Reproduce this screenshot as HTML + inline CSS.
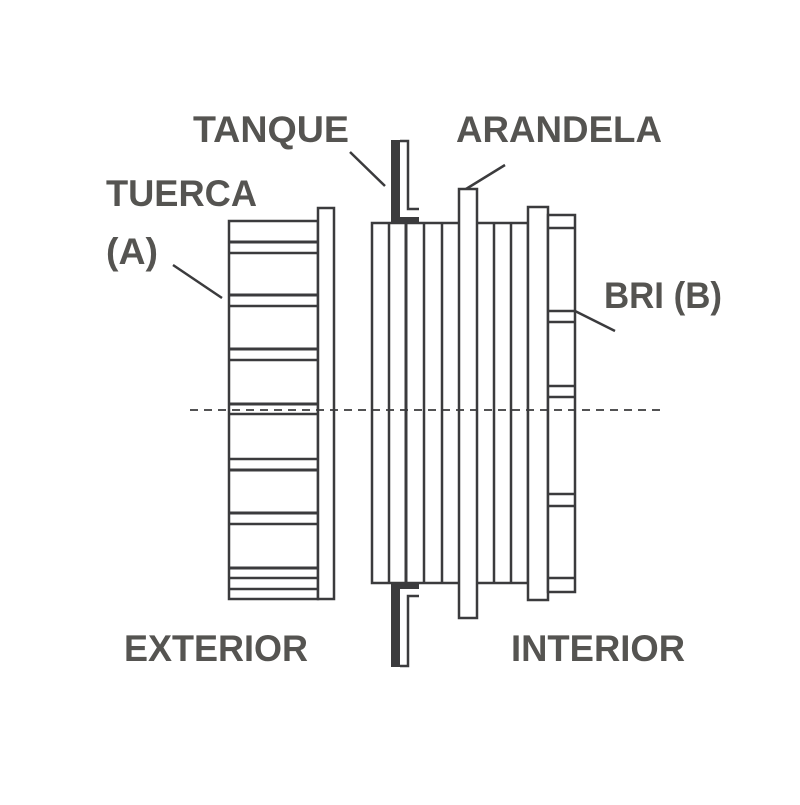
<!DOCTYPE html>
<html><head><meta charset="utf-8"><style>html,body{margin:0;padding:0;background:#fff}</style></head>
<body>
<svg width="800" height="800" viewBox="0 0 800 800" xmlns="http://www.w3.org/2000/svg">
<g font-family="Liberation Sans, sans-serif" font-weight="bold" font-size="37" fill="#555451">
<text x="193" y="142" textLength="156" lengthAdjust="spacingAndGlyphs">TANQUE</text>
<text x="106" y="206" textLength="151" lengthAdjust="spacingAndGlyphs">TUERCA</text>
<text x="106" y="264" textLength="52" lengthAdjust="spacingAndGlyphs">(A)</text>
<text x="456" y="142" textLength="206" lengthAdjust="spacingAndGlyphs">ARANDELA</text>
<text x="604" y="308" textLength="118" lengthAdjust="spacingAndGlyphs">BRI (B)</text>
<text x="124" y="661" textLength="184" lengthAdjust="spacingAndGlyphs">EXTERIOR</text>
<text x="511" y="661" textLength="174" lengthAdjust="spacingAndGlyphs">INTERIOR</text>
</g>
<g stroke="#3b3b3d" stroke-width="2.5" fill="none">
<!-- leaders -->
<line x1="350" y1="152" x2="385" y2="186"/>
<line x1="173" y1="265" x2="222" y2="298"/>
<line x1="505" y1="165" x2="466" y2="189"/>
<line x1="575" y1="311" x2="615" y2="331"/>
<!-- nut A -->
<rect x="229" y="221" width="89" height="378" fill="#fff"/>
<rect x="318" y="208" width="16" height="391" fill="#fff"/>
<g>
<line x1="229" y1="242" x2="318" y2="242" stroke-width="3"/>
<line x1="229" y1="253" x2="318" y2="253"/>
<line x1="229" y1="295" x2="318" y2="295" stroke-width="3"/>
<line x1="229" y1="306" x2="318" y2="306"/>
<line x1="229" y1="349" x2="318" y2="349" stroke-width="3"/>
<line x1="229" y1="360" x2="318" y2="360"/>
<line x1="229" y1="404" x2="318" y2="404" stroke-width="3"/>
<line x1="229" y1="414" x2="318" y2="414"/>
<line x1="229" y1="459" x2="318" y2="459"/>
<line x1="229" y1="470" x2="318" y2="470" stroke-width="3"/>
<line x1="229" y1="513" x2="318" y2="513" stroke-width="3"/>
<line x1="229" y1="524" x2="318" y2="524"/>
<line x1="229" y1="568" x2="318" y2="568" stroke-width="3"/>
<line x1="229" y1="578" x2="318" y2="578"/>
<line x1="229" y1="589" x2="318" y2="589"/>
</g>
<!-- threaded body -->
<rect x="372" y="223" width="156" height="360" fill="#fff"/>
<line x1="389" y1="223" x2="389" y2="583"/>
<line x1="406" y1="223" x2="406" y2="583" stroke-width="3"/>
<line x1="424" y1="223" x2="424" y2="583"/>
<line x1="442" y1="223" x2="442" y2="583"/>
<line x1="494" y1="223" x2="494" y2="583"/>
<line x1="511" y1="223" x2="511" y2="583"/>
<!-- washer -->
<rect x="459" y="189" width="18" height="429" fill="#fff"/>
<!-- flange -->
<rect x="528" y="207" width="20" height="393" fill="#fff"/>
<!-- BRI -->
<rect x="548" y="215" width="27" height="377" fill="#fff"/>
<line x1="548" y1="228" x2="575" y2="228"/>
<line x1="548" y1="311" x2="575" y2="311"/>
<line x1="548" y1="322" x2="575" y2="322"/>
<line x1="548" y1="386" x2="575" y2="386"/>
<line x1="548" y1="397" x2="575" y2="397"/>
<line x1="548" y1="494" x2="575" y2="494"/>
<line x1="548" y1="506" x2="575" y2="506"/>
<line x1="548" y1="578" x2="575" y2="578"/>
<!-- tank thin L -->
<polyline points="400,141 408,141 408,209 419,209"/>
<polyline points="400,666 408,666 408,596 419,596"/>
<!-- dashed axis -->
<line x1="190" y1="410" x2="662" y2="410" stroke-width="1.8" stroke-dasharray="8,6"/>
</g>
<g fill="#3b3b3d">
<rect x="391" y="140" width="9" height="83"/>
<rect x="391" y="217" width="28" height="6"/>
<rect x="391" y="583" width="9" height="84"/>
<rect x="391" y="583" width="28" height="6"/>
</g>
</svg>
</body></html>
